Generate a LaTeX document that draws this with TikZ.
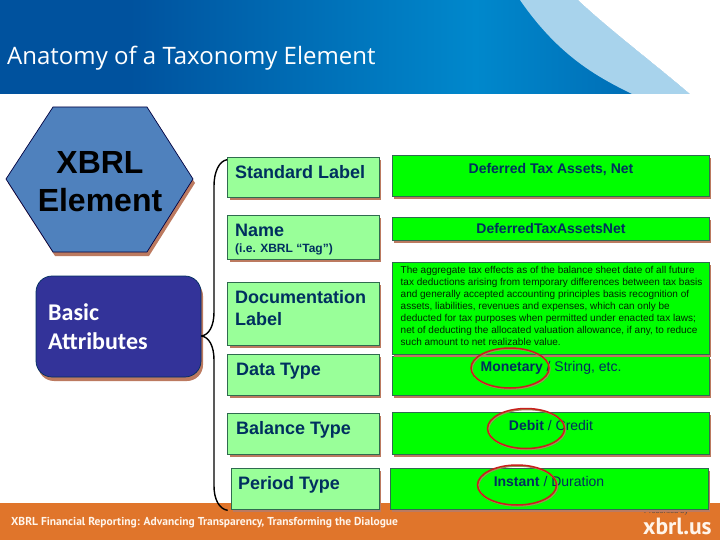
\documentclass[tikz,border=0pt]{standalone}
\usepackage{fontspec}
\setmainfont{Liberation Sans}
\newfontfamily\carlito{Carlito}
\newfontfamily\titlefont{Open Sans}
\newfontfamily\footfont{PT Sans}
\usetikzlibrary{shadows,calc}
\definecolor{shadowc}{HTML}{BC7A60}
\definecolor{lgreen}{HTML}{99FF99}
\definecolor{bgreen}{HTML}{00FF00}
\definecolor{navy}{HTML}{002F5F}
\definecolor{edgeg}{HTML}{2F6B4F}
\definecolor{orangef}{HTML}{E0752B}
\definecolor{hexblue}{HTML}{4F81BD}
\definecolor{purpleb}{HTML}{333399}
\definecolor{lightband}{HTML}{A8D3EC}
\definecolor{ringr}{HTML}{C8201C}
\definecolor{ringo}{HTML}{9A9055}
\definecolor{bannA}{HTML}{00529E}
\definecolor{bannB}{HTML}{0088CC}
\definecolor{bannC}{HTML}{006EB6}
\pgfdeclarehorizontalshading{bann}{100bp}{
 color(0bp)=(bannA);
 color(25bp)=(bannA);
 color(34bp)=(bannA);
 color(58bp)=(bannB);
 color(69bp)=(bannC);
 color(100bp)=(bannC)}
\tikzset{
 lbox/.style={draw=edgeg,line width=.7pt,fill=lgreen,inner sep=0pt,
   drop shadow={shadow xshift=2pt,shadow yshift=-3pt,fill=shadowc,opacity=1}},
 rbox/.style={draw=edgeg,line width=.7pt,fill=bgreen,inner sep=0pt,
   drop shadow={shadow xshift=2pt,shadow yshift=-3pt,fill=shadowc,opacity=1}},
 ltext/.style={font=\bfseries\fontsize{18}{22}\selectfont,text=navy,anchor=west,align=left,inner sep=0pt},
 rtext/.style={font=\fontsize{14}{16}\selectfont,text=navy,inner sep=0pt},
 ring/.style={draw=ringr,line width=1.5pt},
 ringshade/.style={draw=ringo,line width=1.5pt},
 bracep/.style={draw=black,line width=1.4pt},
}
\newcommand{\bx}[6]{\node[#1,minimum width=#4pt-#2pt,minimum height=#5pt-#3pt] (#6) at ({(#2+#4)/2},{(#3+#5)/2}) {};}
\begin{document}
\begin{tikzpicture}[x=1pt,y=-1pt]
\useasboundingbox (0,0) rectangle (720,540);
% banner
\shade[shading=bann] (0,0) rectangle (720,94);
\fill[lightband] (520,0) .. controls (560,58) and (600,78) .. (632,94) -- (690,94) .. controls (650,60) and (610,30) .. (578,0) -- cycle;
\fill[white] (578,0) .. controls (610,30) and (650,60) .. (690,94) -- (720,94) -- (720,0) -- cycle;
\node[font=\titlefont\fontsize{24}{28}\selectfont,text=white,anchor=west,inner sep=0pt] (title) at (7,58) {Anatomy of a Taxonomy Element};
% footer
\fill[orangef] (0,503) rectangle (720,540);
\node[font=\footfont\bfseries\fontsize{11.5}{14}\selectfont,text=white!92!orange,anchor=west,inner sep=0pt] (foot) at (11,523) {XBRL Financial Reporting: Advancing Transparency, Transforming the Dialogue};
\node[font=\fontsize{7.5}{9}\selectfont,text=black!70,anchor=west,inner sep=0pt] (pres) at (644,512) {Presented by};
\node[font=\footfont\bfseries\fontsize{23.5}{26}\selectfont,text=white!92!orange,anchor=west,inner sep=0pt] (xus) at (643,526) {xbrl.us};
% hexagon
\fill[shadowc] (55,111) -- (149,111) -- (195,183) -- (149,256) -- (55,256) -- (8,183) -- cycle;
\draw[fill=hexblue,draw=black!75!blue,line width=.7pt] (53,107) -- (147,107) -- (193,179) -- (147,252) -- (53,252) -- (6,179) -- cycle;
\node[font=\bfseries\fontsize{32}{38}\selectfont,align=center,inner sep=0pt] (xe) at (100,181.5) {XBRL\\Element};
% basic attributes
\node[draw=navy,line width=.7pt,fill=purpleb,rounded corners=16pt,minimum width=165pt,minimum height=101pt,inner sep=0pt,
  drop shadow={shadow xshift=2pt,shadow yshift=-4pt,fill=shadowc,opacity=1}] (ba) at (118.5,326.5) {};
\node[font=\carlito\bfseries\fontsize{24}{29}\selectfont,text=white,align=left,anchor=west,inner sep=0pt] (bat) at (48,327) {Basic\\Attributes};
% right boxes
\bx{rbox}{392}{155}{709}{196}{r1}
\bx{rbox}{392}{217}{709}{240}{r2}
\bx{rbox}{392}{356}{709}{395}{r4}
\bx{rbox}{392}{262}{709}{354}{r3}
\bx{rbox}{392}{412}{709}{454}{r5}
\bx{rbox}{390}{468}{708}{509}{r6}
% left boxes
\bx{lbox}{227.5}{157}{379}{197}{l1}
\bx{lbox}{227.5}{215}{379}{259}{l2}
\bx{lbox}{227.5}{282}{379}{345}{l3}
\bx{lbox}{227.5}{354}{379}{395}{l4}
\bx{lbox}{227.5}{413}{379}{454}{l5}
\bx{lbox}{231}{468}{379}{509}{l6}
% brace
\coordinate (tip) at ($(ba.east)+(0,9.5)$);
\coordinate (top) at ($(l1.north west)+(0,3)$);
\coordinate (bot) at ($(l6.south west)+(-3,1)$);
\draw[bracep] (top) .. controls (219,161) and (214,172) .. (214,186) -- (214,312) .. controls (214,326) and (209,335) .. (tip);
\draw[bracep] (tip) .. controls (209,337) and (214,346) .. (214,360) -- (214,486) .. controls (214,499) and (219,509) .. (bot);
% left text
\node[ltext] (lt1) at (235,172) {Standard Label};
\node[ltext] (lt2) at (235,230) {Name};
\node[font=\bfseries\fontsize{12}{14}\selectfont,text=navy,anchor=west,inner sep=0pt] (lt2b) at (235,249) {(i.e. XBRL “Tag”)};
\node[ltext] (lt3) at (235,308) {Documentation\\Label};
\node[ltext] (lt4) at (236,371) {Data Type};
\node[ltext] (lt5) at (236,430) {Balance Type};
\node[ltext] (lt6) at (238,485) {Period Type};
% right text
\node[font=\bfseries\fontsize{14}{16}\selectfont,text=navy,inner sep=0pt] (rt1) at (551,169.5) {Deferred Tax Assets, Net};
\node[font=\bfseries\fontsize{14}{16}\selectfont,text=navy,inner sep=0pt] (rt2) at (551,228) {DeferredTaxAssetsNet};
\node[font=\fontsize{10}{12}\selectfont,text=black!85!green,align=left,anchor=north west,inner sep=0pt] (rt3) at (400.5,266) {The aggregate tax effects as of the balance sheet date of all future\\tax deductions arising from temporary differences between tax basis\\and generally accepted accounting principles basis recognition of\\assets, liabilities, revenues and expenses, which can only be\\deducted for tax purposes when permitted under enacted tax laws;\\net of deducting the allocated valuation allowance, if any, to reduce\\such amount to net realizable value.};
\node[rtext] (rt4) at (551,368) {\textbf{Monetary} / String, etc.};
\node[rtext] (rt5) at (551,425) {\textbf{Debit} / Credit};
\node[rtext] (rt6) at (549,481) {\textbf{Instant} / Duration};
% rings
\draw[ringshade] (511,369) ellipse (39pt and 20pt);
\draw[ring] (510,368) ellipse (39pt and 20pt);
\draw[ringshade] (527,429.5) ellipse (38.5pt and 20pt);
\draw[ring] (526,428.5) ellipse (38.5pt and 20pt);
\draw[ringshade] (518,486) ellipse (39.5pt and 20pt);
\draw[ring] (517,485) ellipse (39.5pt and 20pt);
\end{tikzpicture}
\end{document}
